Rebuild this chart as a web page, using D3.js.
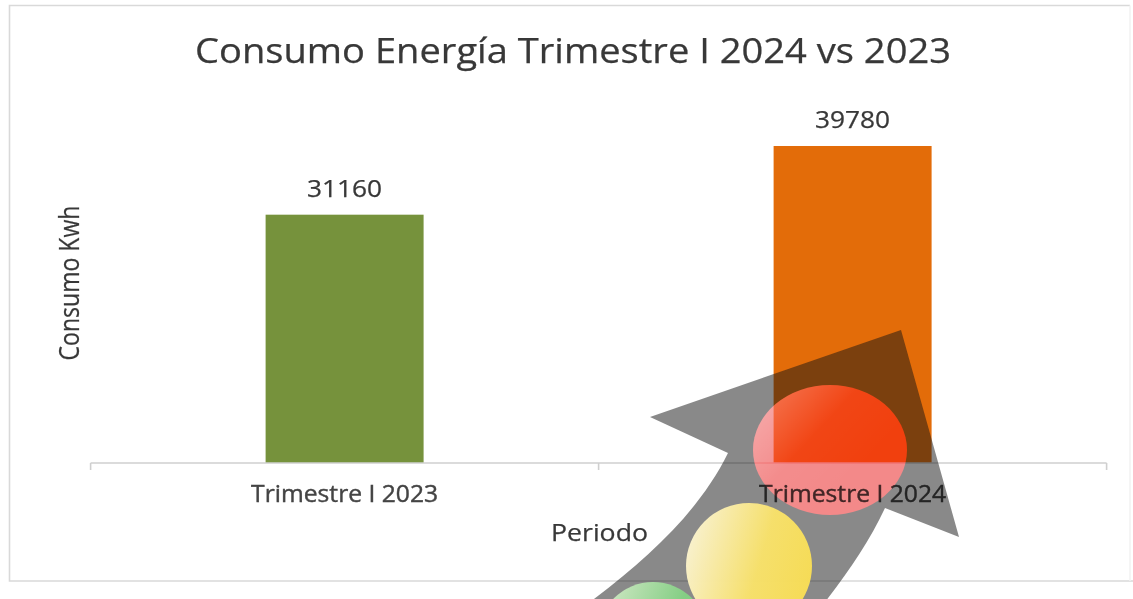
<!DOCTYPE html>
<html><head><meta charset="utf-8">
<script src="https://cdn.jsdelivr.net/npm/d3@7"></script>
<style>
html,body{margin:0;padding:0;background:#fff;overflow:hidden}
svg{display:block;background:#fff;filter:blur(0.6px)}
text{font-family:"Open Sans",sans-serif;fill:#383838;stroke:#383838;stroke-width:0.25px}
</style></head><body>
<script>
const categories = ["Trimestre I 2023", "Trimestre I 2024"];
const consumo = [31160, 39780];
const barColors = ["#76923c", "#e36c09"];
const titleText = "Consumo Energía Trimestre I 2024 vs 2023";
const yLabel = "Consumo Kwh";
const xLabel = "Periodo";

const W = 1133, H = 599;
const svg = d3.select("body").append("svg").attr("width", W).attr("height", H);
const defs = svg.append("defs");
function grad(id, x1, y1, x2, y2, stops) {
  const g = defs.append("linearGradient").attr("id", id)
    .attr("x1", x1).attr("y1", y1).attr("x2", x2).attr("y2", y2);
  stops.forEach(s => g.append("stop").attr("offset", s[0]).attr("stop-color", s[1]).attr("stop-opacity", s[2]));
}
grad("gy", 0, .25, 1, .55, [[0, "#fdf6d6", 1], [.6, "#fae36a", 1], [1, "#fadf55", 1]]);
grad("gg", 0, .2, 1, .6, [[0, "#d4ecc8", 1], [.65, "#84d184", 1], [1, "#7ccd7c", 1]]);
grad("gr", 0, .1, .7, .65, [[0, "#ffffff", .3], [.55, "#ffffff", .03], [1, "#ffffff", 0]]);

// chart frame
const frame = svg.append("g").attr("fill", "none").attr("stroke-width", 1.6);
frame.append("path").attr("d", "M1130,5.5 H9.5 V581 H1133").attr("stroke", "#d9d9d9");
frame.append("path").attr("d", "M1130,5.5 V581").attr("stroke", "#f3f3f3");

const x = d3.scaleBand().domain(categories).range([90.6, 1106.6]).paddingInner(0.689).paddingOuter(0.3445);
const y = d3.scaleLinear().domain([0, 45000]).range([463, 104.4]);

// bars
svg.selectAll("rect.bar").data(consumo).join("rect").attr("class", "bar")
  .attr("x", (d, i) => x(categories[i])).attr("width", x.bandwidth())
  .attr("y", d => y(d)).attr("height", d => y(0) - y(d))
  .attr("fill", (d, i) => barColors[i]);

// value labels
svg.selectAll("text.val").data(consumo).join("text").attr("class", "val")
  .attr("x", (d, i) => x(categories[i]) + x.bandwidth() / 2)
  .attr("y", d => y(d) - 18).attr("text-anchor", "middle")
  .attr("font-size", 23).attr("textLength", 75).attr("lengthAdjust", "spacingAndGlyphs")
  .text(d => d);

// axis line + boundary ticks
const axisG = svg.append("g").attr("transform", `translate(0,${y(0)})`);
axisG.append("line").attr("x1", x.range()[0]).attr("x2", x.range()[1])
  .attr("stroke", "#cfcfcf").attr("stroke-width", 1.6);
axisG.selectAll("line.tk").data(d3.range(categories.length + 1)).join("line").attr("class", "tk")
  .attr("x1", i => x.range()[0] + i * x.step()).attr("x2", i => x.range()[0] + i * x.step())
  .attr("y1", 0).attr("y2", 7).attr("stroke", "#cfcfcf").attr("stroke-width", 1.6);

// title and axis titles
svg.append("text").attr("x", 195).attr("y", 63).attr("font-size", 34)
  .attr("textLength", 756).attr("lengthAdjust", "spacingAndGlyphs").text(titleText);
svg.append("text").attr("transform", "translate(79,283) rotate(-90)").attr("text-anchor", "middle")
  .attr("font-size", 27).attr("textLength", 155).attr("lengthAdjust", "spacingAndGlyphs").text(yLabel);
svg.append("text").attr("x", 551).attr("y", 541).attr("font-size", 24)
  .attr("textLength", 97).attr("lengthAdjust", "spacingAndGlyphs").text(xLabel);

// decorative arrow overlay
svg.append("path")
  .attr("d", "M901,330 L959,537 L885,508 C870,540 850,570 825,602 L590,602 C650,557 700,510 728,453 L650,417 Z")
  .attr("fill", "rgba(20,20,20,0.5)");
svg.append("ellipse").attr("cx", 653).attr("cy", 637).attr("rx", 55).attr("ry", 55)
  .attr("fill", "url(#gg)").attr("opacity", .96);
svg.append("ellipse").attr("cx", 749).attr("cy", 566).attr("rx", 63).attr("ry", 63)
  .attr("fill", "url(#gy)").attr("opacity", .96);
svg.append("ellipse").attr("cx", 830).attr("cy", 450).attr("rx", 77).attr("ry", 65)
  .attr("fill", "#e40000").style("mix-blend-mode", "screen");
svg.append("ellipse").attr("cx", 830).attr("cy", 450).attr("rx", 77).attr("ry", 65)
  .attr("fill", "url(#gr)");

// category labels
const xAxis = d3.axisBottom(x).tickSize(0).tickPadding(23);
const labels = svg.append("g").attr("transform", `translate(0,${y(0)})`).call(xAxis);
labels.select(".domain").remove();
labels.attr("font-family", null).attr("font-size", null);
labels.selectAll("text").attr("font-size", 23)
  .attr("textLength", 187).attr("lengthAdjust", "spacingAndGlyphs")
  .style("fill", "#444").style("stroke", "#444").style("stroke-width", "0.4px").style("mix-blend-mode", "multiply");
</script>
</body></html>
